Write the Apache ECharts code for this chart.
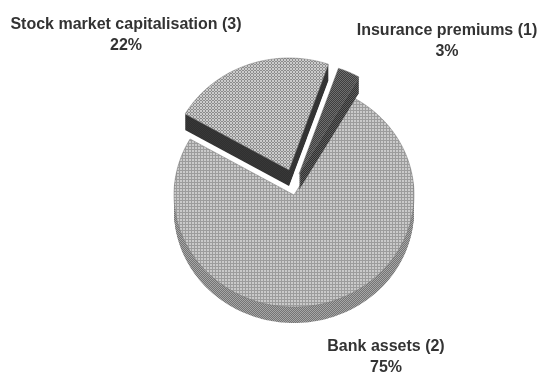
<!DOCTYPE html>
<html>
<head>
<meta charset="utf-8">
<style>html,body{margin:0;padding:0;background:#fff}#chart{width:539px;height:374px}</style>
<script src="https://cdn.jsdelivr.net/npm/echarts@6/dist/echarts.min.js"></script>
</head>
<body>
<div id="chart"></div>
<script>
// Share of financial sector size by component, clockwise from the upper right.
const categories = ['Bank assets (2)', 'Stock market capitalisation (3)', 'Insurance premiums (1)'];
const shares = [75, 22, 3];

// Wedge apex, label anchor and halftone tiles for each slice, in the same order.
const apexes = [[294, 195], [289, 170], [299, 174]];
const labelAnchors = [[386, 357], [126, 35], [447, 41]];
const faceTiles = [
  { rows: ['ddk', 'ddk', 'kkk'], light: '#cacaca', dark: '#9c9c9c' },
  { rows: ['dkd', 'kdk', 'dkd'], light: '#cccccc', dark: '#8c8c8c' },
  { rows: ['dk', 'kd'], light: '#6f6f6f', dark: '#3e3e3e' }
];
const wallTiles = [
  { rows: ['dk', 'kd'], light: '#a6a6a6', dark: '#747474' },
  { rows: ['dk', 'kd'], light: '#383838', dark: '#303030' },
  { rows: ['dk', 'kd'], light: '#5e5e5e', dark: '#303030' }
];

const RX = 120, RY = 112, DEPTH = 16, FIRST_ANGLE = 60;

// Repeating halftone fill; 'd' cells take the light tone and 'k' cells the dark one.
function halftone(tile) {
  const n = tile.rows.length;
  const c = document.createElement('canvas');
  c.width = c.height = n;
  const g = c.getContext('2d');
  tile.rows.forEach((row, y) => {
    [...row].forEach((cell, x) => {
      g.fillStyle = cell === 'k' ? tile.dark : tile.light;
      g.fillRect(x, y, 1, 1);
    });
  });
  return { image: c, repeat: 'repeat' };
}

// Outline of a flattened pie wedge, walking clockwise from a0 to a1 (degrees).
function wedge(cx, cy, a0, a1) {
  const pts = [[cx, cy]];
  const steps = Math.ceil(Math.abs(a1 - a0));
  for (let s = 0; s <= steps; s++) {
    const a = (a0 + (a1 - a0) * s / steps) * Math.PI / 180;
    pts.push([cx + RX * Math.cos(a), cy - RY * Math.sin(a)]);
  }
  return pts;
}

const total = shares.reduce((a, b) => a + b, 0);
const chart = echarts.init(document.getElementById('chart'), null, { renderer: 'canvas' });

chart.setOption({
  animation: false,
  backgroundColor: '#ffffff',
  series: [{
    type: 'custom',
    coordinateSystem: 'none',
    silent: true,
    data: shares.map((v, i) => [v, i]),
    renderItem(params, api) {
      const i = api.value(1);
      let before = 0;
      for (let k = 0; k < i; k++) before += shares[k];
      const a0 = FIRST_ANGLE - before / total * 360;
      const a1 = a0 - api.value(0) / total * 360;
      const [cx, cy] = apexes[i];
      const children = [];
      // Side wall: stacked copies of the wedge, deepest first.
      for (let d = DEPTH; d >= 1; d--) {
        children.push({
          type: 'polygon',
          shape: { points: wedge(cx, cy + d, a0, a1) },
          style: { fill: halftone(wallTiles[i]) }
        });
      }
      children.push({
        type: 'polygon',
        shape: { points: wedge(cx, cy, a0, a1) },
        style: { fill: halftone(faceTiles[i]), stroke: '#777777', lineWidth: 0.5 }
      });
      children.push({
        type: 'text',
        style: {
          x: labelAnchors[i][0],
          y: labelAnchors[i][1],
          text: categories[i] + '\n' + api.value(0) + '%',
          align: 'center',
          verticalAlign: 'middle',
          lineHeight: 21,
          fontFamily: '"Liberation Sans", Arial, sans-serif',
          fontWeight: 'bold',
          fontSize: 16,
          fill: '#333333'
        }
      });
      return { type: 'group', children };
    }
  }]
});
</script>
</body>
</html>
